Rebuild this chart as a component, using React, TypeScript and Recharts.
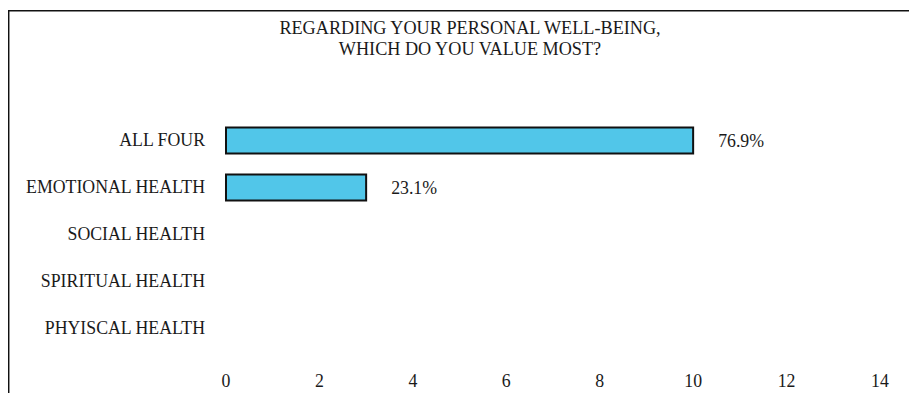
import React from 'react';
import { BarChart, Bar, XAxis, YAxis, LabelList, Customized } from 'recharts';

const categories = ['ALL FOUR', 'EMOTIONAL HEALTH', 'SOCIAL HEALTH', 'SPIRITUAL HEALTH', 'PHYISCAL HEALTH'];
const counts = [10, 3, 0, 0, 0];
const percents: (number | null)[] = [76.9, 23.1, null, null, null];
const xTicks = [0, 2, 4, 6, 8, 10, 12, 14];
const titleLines = ['REGARDING YOUR PERSONAL WELL-BEING,', 'WHICH DO YOU VALUE MOST?'];

const data = categories.map((name, i) => ({ name, count: counts[i], pct: percents[i] }));

const FONT = '"Liberation Serif", "Times New Roman", serif';
const TEXT = '#1a1a1a';

const Decor = () => (
  <g>
    <line x1={0} y1={2.7} x2={909} y2={2.7} stroke="#111" strokeWidth={1.5} />
    <line x1={0.7} y1={2} x2={0.7} y2={385} stroke="#111" strokeWidth={1.5} />
    {titleLines.map((t, i) => (
      <text
        key={i}
        x={462}
        y={26 + i * 21}
        textAnchor="middle"
        fontFamily={FONT}
        fontSize={18.2}
        fill={TEXT}
      >
        {t}
      </text>
    ))}
  </g>
);

export default function App() {
  return (
    <div style={{ width: 909, height: 385 }}>
      <BarChart
        width={909}
        height={385}
        data={data}
        layout="vertical"
        margin={{ top: 108.5, right: 37, bottom: 0, left: 0 }}
      >
        <Customized component={Decor} />
        <XAxis
          type="number"
          domain={[0, 14]}
          ticks={xTicks}
          axisLine={false}
          tickLine={false}
          tickSize={0}
          tickMargin={23}
          height={41.5}
          interval={0}
          tick={{ fontFamily: FONT, fontSize: 17.8, fill: TEXT }}
        />
        <YAxis
          type="category"
          dataKey="name"
          width={218}
          axisLine={false}
          tickLine={false}
          tickSize={0}
          tickMargin={21}
          interval={0}
          tick={{ fontFamily: FONT, fontSize: 17.8, fill: TEXT }}
        />
        <Bar
          dataKey="count"
          fill="#51C6E9"
          stroke="#111"
          strokeWidth={2}
          barSize={26}
          isAnimationActive={false}
        >
          <LabelList
            dataKey="pct"
            position="right"
            offset={25}
            formatter={(v: any) => (v == null ? '' : `${Number(v).toFixed(1)}%`)}
            style={{ fontFamily: FONT, fontSize: 17.8, fill: TEXT }}
          />
        </Bar>
      </BarChart>
    </div>
  );
}
